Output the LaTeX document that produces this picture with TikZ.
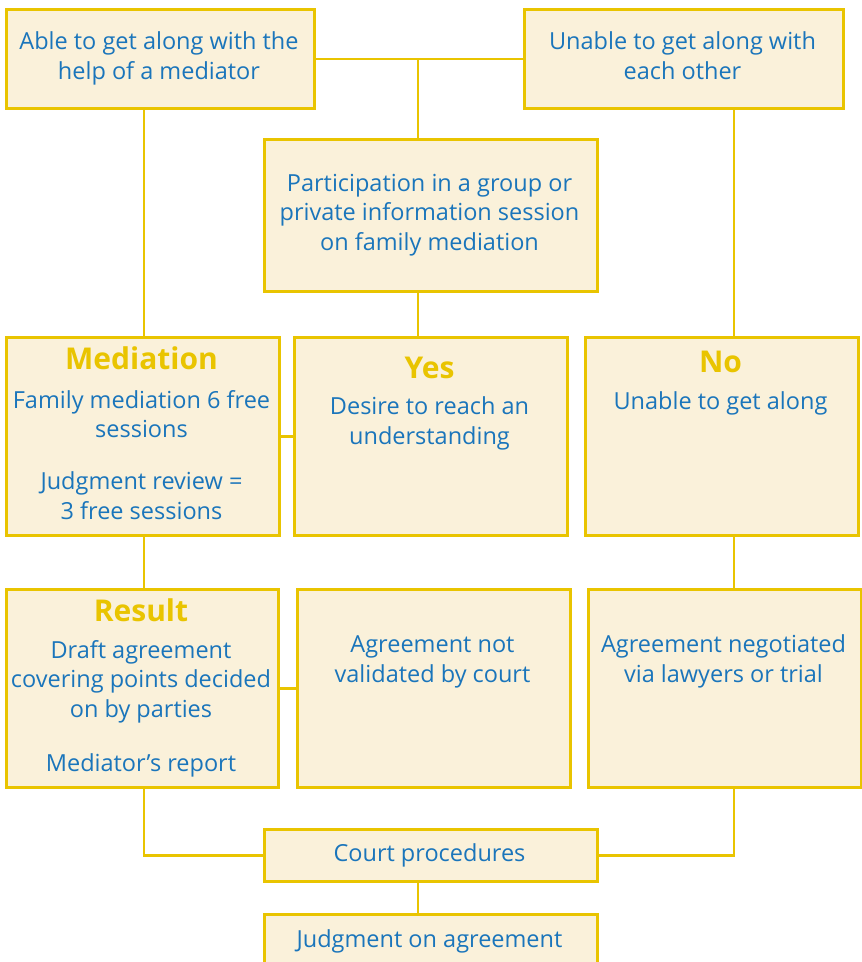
\documentclass[tikz,border=0pt]{standalone}
\usepackage{fontspec}
\setmainfont{Open Sans}
\usetikzlibrary{backgrounds}
\definecolor{bord}{HTML}{E9C400}
\definecolor{fillc}{HTML}{FAF1DA}
\definecolor{txt}{HTML}{1A75BB}
\tikzset{
  box/.style={draw=bord, fill=fillc, line width=3pt, inner sep=0pt, anchor=north west},
  body/.style={text=txt, align=center, anchor=base, inner sep=0pt, font=\fontsize{23.5}{29.5}\selectfont},
  ttl/.style={text=bord, anchor=base, inner sep=0pt, font=\fontsize{30}{32}\selectfont\bfseries},
  conn/.style={draw=bord, line width=2.7pt}
}
\begin{document}
\begin{tikzpicture}[x=1pt,y=-1pt]
\useasboundingbox (0,0) rectangle (862,962);
\node[box, minimum width=308, minimum height=99] (b1) at (5,8) {};
\node[box, minimum width=319, minimum height=99] (b2) at (523,8) {};
\node[box, minimum width=333, minimum height=152] (b3) at (263,138) {};
\node[box, minimum width=273, minimum height=198] (med) at (5,336) {};
\node[box, minimum width=273, minimum height=198] (yes) at (293,336) {};
\node[box, minimum width=273, minimum height=198] (no) at (584,336) {};
\node[box, minimum width=272, minimum height=198] (res) at (5,588) {};
\node[box, minimum width=273, minimum height=198] (agn) at (296,588) {};
\node[box, minimum width=273, minimum height=198] (neg) at (587,588) {};
\node[box, minimum width=333, minimum height=52] (court) at (263,828) {};
\node[box, minimum width=333, minimum height=53] (judg) at (263,913) {};

\node[body] (b1t) at (159,79) {Able to get along with the\\help of a mediator};
\node[body] (b2t) at (682.5,79) {Unable to get along with\\each other};
\node[body] (b3t) at (429.5,250) {Participation in a group or\\private information session\\on family mediation};
\node[body] (courtt) at (429.5,861) {Court procedures};
\node[body] (judgt) at (429.5,947) {Judgment on agreement};

\node[ttl] (medt) at (141.5,369) {Mediation};
\node[body] (medb) at (141.5,519) {Family mediation 6 free\\sessions\\[22.5pt]Judgment review =\\3 free sessions};
\node[ttl] (yest) at (429.5,378) {Yes};
\node[body] (yesb) at (429.5,444) {Desire to reach an\\understanding};
\node[ttl] (not) at (720.5,372) {No};
\node[body] (nob) at (720.5,409) {Unable to get along};
\node[ttl] (rest) at (141,621) {Result};
\node[body] (resb) at (141,771) {Draft agreement\\covering points decided\\on by parties\\[24.5pt]Mediator’s report};
\node[body] (agnb) at (432.5,682) {Agreement not\\validated by court};
\node[body] (negb) at (723.5,682) {Agreement negotiated\\via lawyers or trial};

\coordinate (lx) at (144,0);
\coordinate (mx) at (418,0);
\coordinate (rx) at (734,0);
\begin{scope}[on background layer]
\draw[conn] (b1.east) -- (b2.west);
\draw[conn] (b3.north -| mx) -- (b1.east -| mx);
\draw[conn] (b1.south -| lx) -- (med.north -| lx);
\draw[conn] (b2.south -| rx) -- (no.north -| rx);
\draw[conn] (b3.south -| mx) -- (yes.north -| mx);
\draw[conn] (med.east) -- (yes.west);
\draw[conn] (med.south -| lx) -- (res.north -| lx);
\draw[conn] (no.south -| rx) -- (neg.north -| rx);
\draw[conn] (res.east) -- (agn.west);
\draw[conn] (res.south -| lx) |- (court.west);
\draw[conn] (neg.south -| rx) |- (court.east);
\draw[conn] (court.south -| mx) -- (judg.north -| mx);
\end{scope}
\end{tikzpicture}
\end{document}
